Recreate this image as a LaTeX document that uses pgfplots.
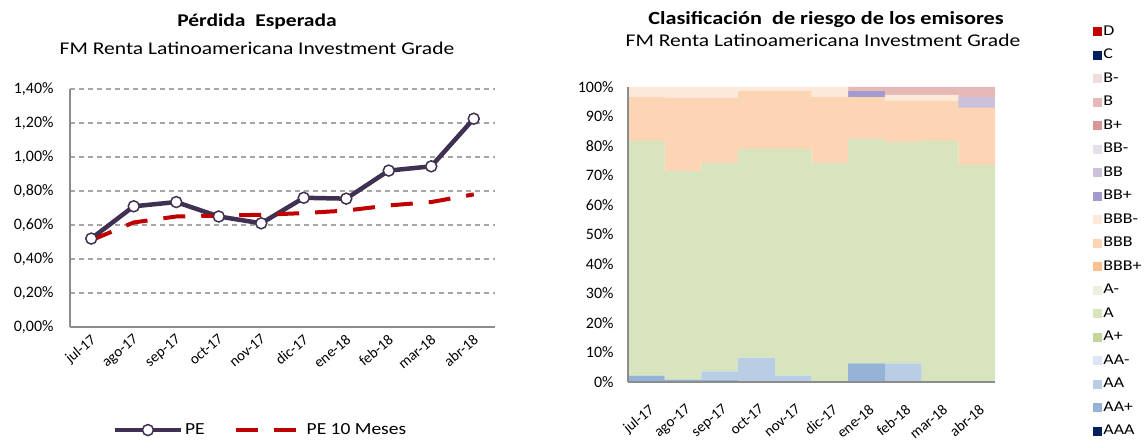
\documentclass[border=0pt]{standalone}
\usepackage{pgfplots}
\pgfplotsset{compat=1.18}
\usepackage{pgfplotstable}
\usepackage{graphicx}
\usepackage{fontspec}
\setmainfont{Carlito}
\newcommand{\sx}[1]{\scalebox{1.2}[1]{#1}}
\newcommand{\sxl}[1]{\scalebox{1.15}[1]{#1}}
\definecolor{pecolor}{HTML}{403152}
\definecolor{pered}{HTML}{C00000}
\definecolor{gridgray}{HTML}{A6A6A6}
\definecolor{axgray}{HTML}{8C8C8C}
\definecolor{cD}{HTML}{C00000}
\definecolor{cC}{HTML}{002060}
\definecolor{cBm}{HTML}{F2DCDB}
\definecolor{cB}{HTML}{E6B9B8}
\definecolor{cBp}{HTML}{D99694}
\definecolor{cBBm}{HTML}{E5E0EC}
\definecolor{cBB}{HTML}{CCC1DA}
\definecolor{cBBp}{HTML}{A39BCF}
\definecolor{cBBBm}{HTML}{FDE9D9}
\definecolor{cBBB}{HTML}{FCD5B5}
\definecolor{cBBBp}{HTML}{FAC090}
\definecolor{cAm}{HTML}{EBF1DE}
\definecolor{cA}{HTML}{D7E4BD}
\definecolor{cAp}{HTML}{C3D69B}
\definecolor{cAAm}{HTML}{DCE6F2}
\definecolor{cAA}{HTML}{B9CDE5}
\definecolor{cAAp}{HTML}{95B3D7}
\definecolor{cAAA}{HTML}{002060}
\pgfplotsset{
  peleg/.style={legend image code/.code={\draw[mark repeat=2,mark phase=2,##1] plot coordinates {(0bp,0bp) (33bp,0bp) (66bp,0bp)};}},
  redleg/.style={legend image code/.code={\draw[##1] (0bp,0bp) -- (60bp,0bp);}},
  sqleg/.style={legend image code/.code={\fill[##1] (0bp,-4.5bp) rectangle (9bp,4.5bp);}},
}

\pgfplotstableread{
x AAA AAp AA AAm Ap A Am BBBp BBB BBBm BBp BB BBm Bp B Bm C D
0 0 2.2 0   0 0 79.5 0 0 14.9 3.4 0 0   0 0 0   0 0 0
1 0 0.8 0   0 0 70.7 0 0 24.8 3.7 0 0   0 0 0   0 0 0
2 0 0.8 2.8 0 0 70.7 0 0 22.0 3.7 0 0   0 0 0   0 0 0
3 0 0   8.3 0 0 70.7 0 0 19.6 1.4 0 0   0 0 0   0 0 0
4 0 0   2.2 0 0 76.8 0 0 19.6 1.4 0 0   0 0 0   0 0 0
5 0 0   0   0 0 74.3 0 0 22.3 3.4 0 0   0 0 0   0 0 0
6 0 6.3 0   0 0 76.1 0 0 14.2 0   2.0 0 0 0 1.4 0 0 0
7 0 0   6.3 0 0 75.0 0 0 14.0 2.0 0 0   0 0 2.7 0 0 0
8 0 0   0   0 0 81.7 0 0 13.6 2.0 0 0   0 0 2.7 0 0 0
9 0 0   0   0 0 73.6 0 0 19.4 0   0 3.5 0 0 3.5 0 0 0
}\ratings

\begin{document}
\begin{tikzpicture}
\path[use as bounding box] (0bp,0bp) rectangle (1144bp,443bp);

% titles
\node[font=\fontsize{18}{21}\selectfont\bfseries] at (257bp,421bp) {\sx{Pérdida\ \ Esperada}};
\node[font=\fontsize{18}{21}\selectfont] at (257bp,395bp) {\sx{FM Renta Latinoamericana Investment Grade}};
\node[font=\fontsize{18.6}{21}\selectfont\bfseries] at (826bp,423bp) {\sx{Clasificación\ \ de riesgo de los emisores}};
\node[font=\fontsize{18}{21}\selectfont] at (823bp,403bp) {\sx{FM Renta Latinoamericana Investment Grade}};

\begin{axis}[
  at={(70bp,116bp)}, anchor=south west, scale only axis,
  width=425bp, height=238bp,
  xmin=-0.5, xmax=9.5, ymin=0, ymax=1.4,
  axis x line*=bottom, axis y line*=left,
  axis line style={-, draw=axgray, line width=1.5bp},
  major tick length=0pt,
  xtick={0,...,9},
  xticklabels={jul-17,ago-17,sep-17,oct-17,nov-17,dic-17,ene-18,feb-18,mar-18,abr-18},
  xticklabel style={xshift=-1bp, yshift=-5bp, rotate=40, anchor=north east, font=\fontsize{15}{17}\selectfont, inner sep=1bp},
  ytick={0,0.2,0.4,0.6,0.8,1.0,1.2,1.4},
  yticklabels={{0,00\%},{0,20\%},{0,40\%},{0,60\%},{0,80\%},{1,00\%},{1,20\%},{1,40\%}},
  yticklabel style={font=\fontsize{16}{18}\selectfont, xshift=-13bp},
  ymajorgrids, grid style={dash pattern=on 5bp off 4bp, draw=gridgray, line width=1.5bp},
  legend columns=2,
  legend style={at={(0.448,-0.433)}, anchor=center, draw=none, fill=none,
    font=\fontsize{17}{20}\selectfont, /tikz/every even column/.append style={column sep=27bp}},
]
\addplot[color=pecolor, line width=4.5bp, mark=*, mark size=5.5bp,
  mark options={fill=white, draw=pecolor, line width=1.5bp, solid}, peleg]
  coordinates {(0,0.52)(1,0.71)(2,0.735)(3,0.65)(4,0.61)(5,0.76)(6,0.755)(7,0.92)(8,0.945)(9,1.225)};
\addlegendentry{\sxl{PE}}
\addplot[color=pered, line width=4bp, dash pattern=on 22bp off 16bp, mark=none, redleg]
  coordinates {(0,0.51)(1,0.615)(2,0.65)(3,0.655)(4,0.66)(5,0.67)(6,0.685)(7,0.715)(8,0.735)(9,0.78)};
\addlegendentry{\hspace{7bp}\sxl{PE 10 Meses}}
\end{axis}

\begin{axis}[
  at={(628bp,61bp)}, anchor=south west, scale only axis,
  width=367bp, height=295bp,
  xmin=-0.5, xmax=9.5, ymin=0, ymax=100,
  axis x line*=bottom, axis y line*=left,
  axis line style={-, draw=axgray, line width=1.5bp},
  axis on top,
  major tick length=0pt,
  ybar stacked, bar width=1,
  xtick={0,...,9},
  xticklabels={jul-17,ago-17,sep-17,oct-17,nov-17,dic-17,ene-18,feb-18,mar-18,abr-18},
  xticklabel style={xshift=2bp, yshift=-20bp, rotate=40, anchor=north east, font=\fontsize{15}{17}\selectfont, inner sep=1bp},
  ytick={0,10,...,100},
  yticklabels={0\%,10\%,20\%,30\%,40\%,50\%,60\%,70\%,80\%,90\%,100\%},
  yticklabel style={font=\fontsize{16}{18}\selectfont, xshift=-11bp},
  reverse legend,
  legend style={at={(1.404,1.219)}, anchor=north east, draw=none, fill=none, inner sep=0pt,
    font=\fontsize{15}{18}\selectfont, row sep=5.5bp,
    nodes={inner sep=1.5bp, text height=11bp, text depth=4bp}},
  legend cell align=left,
  sqleg,
]
\addplot[fill=cAAA, draw=none] table[x=x, y=AAA] {\ratings}; \addlegendentry{\sx{AAA}}
\addplot[fill=cAAp, draw=none] table[x=x, y=AAp] {\ratings}; \addlegendentry{\sx{AA+}}
\addplot[fill=cAA, draw=none] table[x=x, y=AA] {\ratings}; \addlegendentry{\sx{AA}}
\addplot[fill=cAAm, draw=none] table[x=x, y=AAm] {\ratings}; \addlegendentry{\sx{AA-}}
\addplot[fill=cAp, draw=none] table[x=x, y=Ap] {\ratings}; \addlegendentry{\sx{A+}}
\addplot[fill=cA, draw=none] table[x=x, y=A] {\ratings}; \addlegendentry{\sx{A}}
\addplot[fill=cAm, draw=none] table[x=x, y=Am] {\ratings}; \addlegendentry{\sx{A-}}
\addplot[fill=cBBBp, draw=none] table[x=x, y=BBBp] {\ratings}; \addlegendentry{\sx{BBB+}}
\addplot[fill=cBBB, draw=none] table[x=x, y=BBB] {\ratings}; \addlegendentry{\sx{BBB}}
\addplot[fill=cBBBm, draw=none] table[x=x, y=BBBm] {\ratings}; \addlegendentry{\sx{BBB-}}
\addplot[fill=cBBp, draw=none] table[x=x, y=BBp] {\ratings}; \addlegendentry{\sx{BB+}}
\addplot[fill=cBB, draw=none] table[x=x, y=BB] {\ratings}; \addlegendentry{\sx{BB}}
\addplot[fill=cBBm, draw=none] table[x=x, y=BBm] {\ratings}; \addlegendentry{\sx{BB-}}
\addplot[fill=cBp, draw=none] table[x=x, y=Bp] {\ratings}; \addlegendentry{\sx{B+}}
\addplot[fill=cB, draw=none] table[x=x, y=B] {\ratings}; \addlegendentry{\sx{B}}
\addplot[fill=cBm, draw=none] table[x=x, y=Bm] {\ratings}; \addlegendentry{\sx{B-}}
\addplot[fill=cC, draw=none] table[x=x, y=C] {\ratings}; \addlegendentry{\sx{C}}
\addplot[fill=cD, draw=none] table[x=x, y=D] {\ratings}; \addlegendentry{\sx{D}}
\end{axis}
\end{tikzpicture}
\end{document}
